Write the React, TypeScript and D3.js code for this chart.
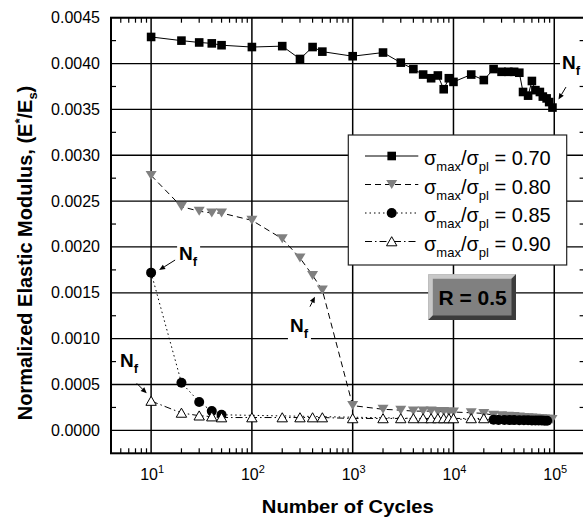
import React from 'react';
import * as d3 from 'd3';

// ---------- data ----------
const cycles070 = [10, 20, 30, 40, 50, 100, 200, 300, 400, 500, 1000, 2000, 3000, 4000, 5000, 6000, 7000, 8000, 9000, 10000, 15000, 20000, 25000, 30000, 35000, 40000, 45000, 49000, 55000, 60000, 65000, 72000, 77000, 84000, 89000, 96000];
const modulus070 = [0.00429, 0.00425, 0.00423, 0.00422, 0.0042, 0.00418, 0.00419, 0.00405, 0.00418, 0.00413, 0.00408, 0.00412, 0.00401, 0.00394, 0.00388, 0.00384, 0.00387, 0.00372, 0.00384, 0.0038, 0.00388, 0.00382, 0.00394, 0.00391, 0.00391, 0.00391, 0.0039, 0.00369, 0.00365, 0.00381, 0.00371, 0.00369, 0.00364, 0.00362, 0.00358, 0.00352];

const cycles080 = [10, 20, 30, 40, 50, 100, 200, 300, 400, 500, 1000, 2000, 3000, 4000, 5000, 6000, 7000, 8000, 9000, 10000, 15000, 20000, 25000, 30000, 35000, 40000, 45000, 50000, 55000, 60000, 65000, 70000, 75000, 80000, 85000, 90000, 95000];
const modulus080 = [0.00278, 0.00244, 0.00239, 0.00237, 0.00237, 0.00229, 0.00209, 0.00188, 0.00169, 0.00153, 0.00027, 0.00023, 0.00022, 0.00021, 0.00021, 0.00021, 0.000205, 0.000205, 0.0002, 0.0002, 0.000192, 0.000185, 0.000165, 0.00016, 0.000155, 0.00015, 0.000145, 0.00014, 0.000138, 0.000135, 0.000132, 0.00013, 0.000127, 0.000124, 0.000122, 0.00012, 0.000118];

const cycles085 = [10, 20, 30, 40, 50, 25000, 28000, 32000, 36000, 40000, 45000, 50000, 55000, 60000, 65000, 70000, 75000, 80000, 85000];
const modulus085 = [0.00172, 0.00052, 0.00031, 0.00021, 0.00017, 0.000115, 0.000114, 0.000113, 0.000112, 0.000112, 0.000111, 0.00011, 0.00011, 0.000109, 0.000108, 0.000108, 0.000107, 0.000106, 0.000105];

const cycles090 = [10, 20, 30, 40, 50, 100, 200, 300, 400, 500, 1000, 2000, 3000, 4000, 5000, 6000, 7000, 8000, 9000, 10000, 15000, 20000];
const modulus090 = [0.00032, 0.00019, 0.00016, 0.00015, 0.00014, 0.00014, 0.00014, 0.00014, 0.00014, 0.00014, 0.00013, 0.00013, 0.00013, 0.00013, 0.00013, 0.00013, 0.00013, 0.00013, 0.00013, 0.00013, 0.00013, 0.00013];

const seriesLabels = ['0.70', '0.80', '0.85', '0.90'];
const yTickValues = [0, 0.0005, 0.001, 0.0015, 0.002, 0.0025, 0.003, 0.0035, 0.004, 0.0045];
const yTickLabels = ['0.0000', '0.0005', '0.0010', '0.0015', '0.0020', '0.0025', '0.0030', '0.0035', '0.0040', '0.0045'];
const xDecadeExponents = [1, 2, 3, 4, 5];
const xTitle = 'Number of Cycles';
const rLabel = 'R = 0.5';

// ---------- layout ----------
const W = 583;
const H = 520;
const L = 111;
const R = 584.6;
const T = 17.7;
const B = 453.3;
const FONT = 'Liberation Sans, Arial, Helvetica, sans-serif';
const GRAY = '#808080';

type Pt = [number, number];
const zip = (a: number[], b: number[]): Pt[] => a.map((v, i) => [v, b[i]]);

export default function App() {
  const x = d3.scaleLog().domain([4, 2e5]).range([L, R]);
  const y = d3.scaleLinear().domain([-0.00025, 0.0045]).range([B, T]);
  const line = d3.line<Pt>().x((d) => x(d[0])).y((d) => y(d[1]));

  const s070 = zip(cycles070, modulus070);
  const s080 = zip(cycles080, modulus080);
  const s085 = zip(cycles085, modulus085);
  const s090 = zip(cycles090, modulus090);

  const styles = [
    { dash: undefined as string | undefined, kind: 'square' },
    { dash: '6,4', kind: 'down' },
    { dash: '1.5,3', kind: 'circle' },
    { dash: '7,3,1.5,3', kind: 'up' },
  ];

  const marker = (kind: string, cx: number, cy: number, key: any) => {
    if (kind === 'square') return <rect key={key} x={cx - 4.3} y={cy - 4.3} width={8.6} height={8.6} fill="#000" />;
    if (kind === 'down') return <path key={key} d={`M${cx - 5.5},${cy - 4.5}L${cx + 5.5},${cy - 4.5}L${cx},${cy + 4.5}Z`} fill={GRAY} />;
    if (kind === 'circle') return <circle key={key} cx={cx} cy={cy} r={5} fill="#000" />;
    return <path key={key} d={`M${cx},${cy - 4.8}L${cx + 5.2},${cy + 4.3}L${cx - 5.2},${cy + 4.3}Z`} fill="#fff" stroke="#000" strokeWidth={1} />;
  };

  const allSeries = [s070, s080, s085, s090];

  // ticks
  const xMinor: number[] = [];
  for (let d = 0; d <= 5; d++) for (let m = 2; m <= 9; m++) {
    const v = m * Math.pow(10, d);
    if (v >= 4 && v <= 2e5) xMinor.push(v);
  }
  const xMajor = xDecadeExponents.map((e) => Math.pow(10, e));
  const yMinor = d3.range(0.00025, 0.0045, 0.0005);

  // annotations: target point, offsets from target pixel
  const annos = [
    { pt: s070[s070.length - 1], tip: [6, -8], tail: [13.5, -20.5], lab: [9.5, -38.5] },
    { pt: s085[0], tip: [8, -2.6], tail: [24, -12.6], lab: [28, -12.6] },
    { pt: s090[0], tip: [-4.4, -7.7], tail: [-14.4, -17.7], lab: [-31, -34.3] },
    { pt: s080[9], tip: [-7.4, 6.6], tail: [-12.4, 16.6], lab: [-32.4, 41.6] },
  ];

  const legX0 = 348.3, legY0 = 135, legW = 218.4, legH = 130;
  const legRowY = (i: number) => 156 + i * 28.5;

  const rx = 428.3, ry = 274.3, rw = 87.7, rh = 45.7, bv = 4.5;

  return (
    <div style={{ position: 'absolute', left: 0, top: 0 }}>
      <svg width={W} height={H} style={{ display: 'block', fontFamily: FONT }}>
        <rect x={0} y={0} width={W} height={H} fill="#fff" />
        <defs>
          <clipPath id="plot">
            <rect x={L} y={T} width={R - L} height={B - T} />
          </clipPath>
        </defs>

        {/* grid */}
        {yTickValues.map((v) => (
          <line key={'gy' + v} x1={L} x2={R} y1={y(v)} y2={y(v)} stroke="#000" strokeWidth={1.3} />
        ))}
        {xMajor.map((v) => (
          <line key={'gx' + v} x1={x(v)} x2={x(v)} y1={T} y2={B} stroke="#000" strokeWidth={1.5} />
        ))}

        {/* ticks */}
        {xMinor.map((v) => (
          <g key={'tx' + v}>
            <line x1={x(v)} x2={x(v)} y1={B} y2={B - 5} stroke="#000" strokeWidth={1.2} />
            <line x1={x(v)} x2={x(v)} y1={T} y2={T + 5} stroke="#000" strokeWidth={1.2} />
          </g>
        ))}
        {yMinor.map((v) => (
          <g key={'ty' + v}>
            <line x1={L} x2={L + 5} y1={y(v)} y2={y(v)} stroke="#000" strokeWidth={1.2} />
            <line x1={R} x2={R - 5} y1={y(v)} y2={y(v)} stroke="#000" strokeWidth={1.2} />
          </g>
        ))}

        {/* frame */}
        <rect x={L} y={T} width={R - L} height={B - T} fill="none" stroke="#000" strokeWidth={2} />

        {/* legend box */}
        <rect x={legX0} y={legY0} width={legW} height={legH} fill="#fff" stroke="#222" strokeWidth={1.2} />
        {seriesLabels.map((lab, i) => {
          const ly = legRowY(i);
          return (
            <g key={'leg' + i}>
              <line x1={365} x2={418.3} y1={ly} y2={ly} stroke="#000" strokeWidth={1} strokeDasharray={styles[i].dash} />
              {marker(styles[i].kind, 391.7, ly, 'lm' + i)}
              <text x={424} y={ly + 9} fontSize={20} style={{ whiteSpace: 'pre' }}>
                σ<tspan fontSize={13} dy={6}>max</tspan>
                <tspan fontSize={20} dy={-6}>/σ</tspan>
                <tspan fontSize={13} dy={6}>pl</tspan>
                <tspan fontSize={20} dy={-6}>{' = ' + lab}</tspan>
              </text>
            </g>
          );
        })}

        {/* R box */}
        <rect x={rx} y={ry} width={rw} height={rh} fill={GRAY} />
        <path d={`M${rx},${ry}L${rx + rw},${ry}L${rx + rw - bv},${ry + bv}L${rx + bv},${ry + bv}L${rx + bv},${ry + rh - bv}L${rx},${ry + rh}Z`} fill="#c8c8c8" />
        <path d={`M${rx + rw},${ry}L${rx + rw},${ry + rh}L${rx},${ry + rh}L${rx + bv},${ry + rh - bv}L${rx + rw - bv},${ry + rh - bv}L${rx + rw - bv},${ry + bv}Z`} fill="#3c3c3c" />
        <text x={rx + rw / 2 + 0.5} y={ry + 31} fontSize={21} fontWeight="bold" textAnchor="middle">{rLabel}</text>

        {/* series */}
        <g clipPath="url(#plot)">
          {allSeries.map((s, i) => (
            <g key={'s' + i}>
              <path d={line(s) || ''} fill="none" stroke="#000" strokeWidth={1} strokeDasharray={styles[i].dash} />
              {s.map((d, j) => marker(styles[i].kind, x(d[0]), y(d[1]), j))}
            </g>
          ))}
        </g>

        {/* annotations */}
        {annos.map((a, i) => {
          const px = x(a.pt[0]);
          const py = y(a.pt[1]);
          const tx = px + a.tip[0], ty = py + a.tip[1];
          const sx = px + a.tail[0], sy = py + a.tail[1];
          const ang = Math.atan2(ty - sy, tx - sx);
          const hl = 6, hw = 2.6;
          const bx = tx - hl * Math.cos(ang), by = ty - hl * Math.sin(ang);
          const nx = -Math.sin(ang), ny = Math.cos(ang);
          const lx = px + a.lab[0], lyy = py + a.lab[1];
          return (
            <g key={'an' + i}>
              <rect x={lx - 2} y={lyy - 16} width={23} height={25} fill="#fff" />
              <line x1={sx} y1={sy} x2={bx} y2={by} stroke="#000" strokeWidth={1} />
              <path d={`M${tx},${ty}L${bx + nx * hw},${by + ny * hw}L${bx - nx * hw},${by - ny * hw}Z`} fill="#000" />
              <text x={lx} y={lyy} fontSize={19} fontWeight="bold">
                N<tspan fontSize={13} dy={6}>f</tspan>
              </text>
            </g>
          );
        })}

        {/* axis labels */}
        {yTickValues.map((v, i) => (
          <text key={'yl' + v} x={100} y={y(v) + 5.5} fontSize={16} textAnchor="end">{yTickLabels[i]}</text>
        ))}
        {xDecadeExponents.map((e) => (
          <text key={'xl' + e} x={x(Math.pow(10, e)) + 1} y={480} fontSize={16} textAnchor="middle">
            10<tspan fontSize={11} dy={-7}>{e}</tspan>
          </text>
        ))}

        <text x={(L + R) / 2} y={513} fontSize={19} fontWeight="bold" textAnchor="middle" textLength={172} lengthAdjust="spacingAndGlyphs">{xTitle}</text>
        <text transform="translate(31.5,253) rotate(-90)" fontSize={20} fontWeight="bold" textAnchor="middle">
          Normalized Elastic Modulus, (E<tspan fontSize={13} dy={-8}>*</tspan>
          <tspan fontSize={20} dy={8}>/E</tspan>
          <tspan fontSize={13} dy={5}>s</tspan>
          <tspan fontSize={20} dy={-5}>)</tspan>
        </text>
      </svg>
    </div>
  );
}
